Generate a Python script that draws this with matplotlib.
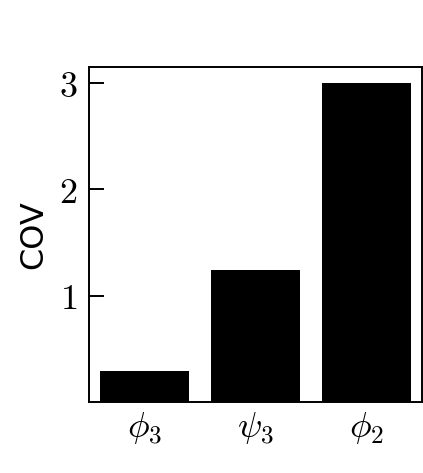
import matplotlib
matplotlib.use('Agg')
import matplotlib.pyplot as plt

plt.rcParams['mathtext.fontset'] = 'cm'

labels = [r'$\phi_3$', r'$\psi_3$', r'$\phi_2$']
cov = [0.29, 1.245, 3.0]
yticks = [1, 2, 3]

fig = plt.figure(figsize=(4.23, 4.73), dpi=100)
ax = fig.add_axes([0.210, 0.150, 0.788, 0.708])
ax.bar(range(len(cov)), cov, width=0.8, color='black')
ax.set_xlim(-0.5, 2.5)
ax.set_ylim(0, 3.15)
ax.set_xticks(range(len(cov)))
ax.set_xticklabels(labels, fontsize=26)
ax.set_yticks(yticks)
ax.set_yticklabels(['$%d$' % t for t in yticks], fontsize=26)
ax.tick_params(axis='x', length=0, pad=6)
ax.tick_params(axis='y', direction='in', length=10.5, width=1.4, pad=8)
for s in ax.spines.values():
    s.set_linewidth(1.4)
ax.set_ylabel('COV', fontsize=23, labelpad=7)

fig.savefig('out.png', dpi=100)
